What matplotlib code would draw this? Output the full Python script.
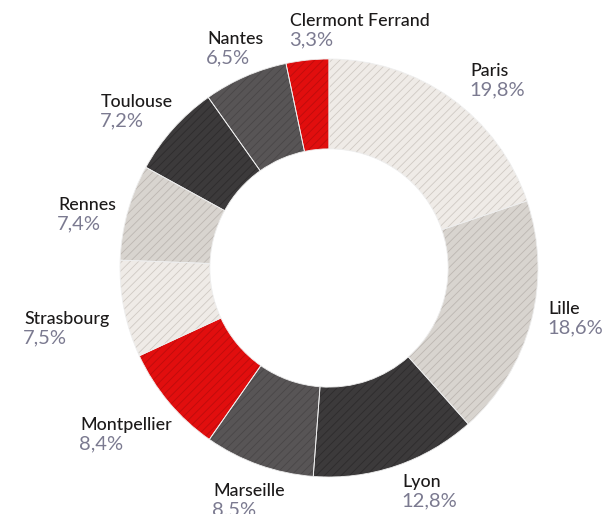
import matplotlib.pyplot as plt

# Donut data (clockwise from 12 o'clock)
cities = ['Paris', 'Lille', 'Lyon', 'Marseille', 'Montpellier',
          'Strasbourg', 'Rennes', 'Toulouse', 'Nantes', 'Clermont Ferrand']
shares = [19.8, 18.6, 12.8, 8.5, 8.4, 7.5, 7.4, 7.2, 6.5, 3.3]
labels_pct = ['19,8%', '18,6%', '12,8%', '8,5%', '8,4%',
              '7,5%', '7,4%', '7,2%', '6,5%', '3,3%']

face = ['#efebe7', '#d8d4cf', '#3c3a3b', '#585556', '#e10e0e',
        '#efebe7', '#d8d4cf', '#3c3a3b', '#585556', '#e10e0e']
hatchc = ['#cfc9c4', '#bcb6b1', '#2e2c2d', '#494647', '#bd0c0c',
          '#cfc9c4', '#bcb6b1', '#2e2c2d', '#494647', '#bd0c0c']

# label anchor (left, top of name) in pixels
label_pos = [(470, 63), (548, 301), (402, 474), (213, 483), (80, 417),
             (24, 311), (58, 197), (101, 94), (207, 31), (290, 13)]

W, H = 605, 514
plt.rcParams['hatch.linewidth'] = 0.6
fig = plt.figure(figsize=(W / 100, H / 100), dpi=100)
ax = fig.add_axes([0, 0, 1, 1])

cx, cy, r = 329, H - 268, 209
wedges, _ = ax.pie(shares, startangle=90, counterclock=False, center=(cx, cy),
                   radius=r, colors=face, frame=True,
                   wedgeprops=dict(width=r * 0.43, linewidth=0))
for w, hc in zip(wedges, hatchc):
    w.set_hatch('////')
    w.set_edgecolor(hc)
    w.set_linewidth(0)

# thin light separators between slices
ax.pie(shares, startangle=90, counterclock=False, center=(cx, cy),
       radius=r, colors=['none'] * len(shares), frame=True,
       wedgeprops=dict(width=r * 0.43, linewidth=0.6, edgecolor='#eeeeee'))

ax.set_xlim(0, W)
ax.set_ylim(0, H)
ax.set_aspect('equal')
ax.axis('off')

for name, pct, (x, y) in zip(cities, labels_pct, label_pos):
    ax.text(x, H - y, name, fontsize=12.8, family='Lato', fontweight='medium',
            color='#1c1a1a', va='top', ha='left')
    ax.text(x - 1, H - y - 18, pct, fontsize=14.5, family='Lato', fontweight='normal',
            color='#7b7a90', va='top', ha='left')

fig.savefig('out.png', dpi=100)
